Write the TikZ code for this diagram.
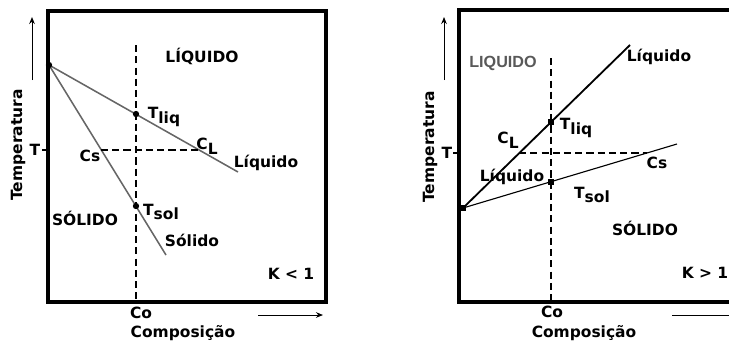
\documentclass[tikz,border=0pt]{standalone}
\usepackage{fontspec}
\setmainfont{DejaVu Sans}
\newfontfamily\arialfont{Liberation Sans}
\usetikzlibrary{arrows.meta, positioning}
\newcommand{\sublbl}[2]{#1\raisebox{-3.5pt}{#2}}

\begin{document}
\begin{tikzpicture}[x=0.25mm, y=-0.25mm, font=\bfseries\fontsize{11}{12}\selectfont,
    frame/.style={line width=2.2pt},
    guide/.style={dash pattern=on 5pt off 3pt, line width=0.8pt},
    dot/.style={circle, fill, inner sep=0pt, minimum size=4.5pt},
    sqdot/.style={rectangle, fill, inner sep=0pt, minimum size=4.5pt},
    axis/.style={-{Stealth[length=5pt, width=4pt]}, line width=0.7pt},
    lbl/.style={inner sep=0pt}]
  \useasboundingbox (0,0) rectangle (729,343);

  % K < 1
  \draw[frame] (48,11) rectangle (326,302);
  \coordinate (a0) at (49,65);
  \coordinate (liqA) at (238,172);
  \coordinate (solA) at (166,255);
  \draw[line width=1.1pt, black!60] (a0) -- (liqA);
  \draw[line width=1.1pt, black!60] (a0) -- (solA);
  \node[dot] (p0) at (a0) {};
  \node[dot] (tliqA) at (136,114) {};
  \node[dot] (tsolA) at (136,206) {};
  \coordinate (coTopA) at (136,45);
  \coordinate (coBotA) at (136,302);
  \coordinate (csA) at (101,150);
  \coordinate (clA) at (199,150);
  \draw[guide] (coTopA) -- (coBotA);
  \draw[guide] (csA) -- (clA);
  \node[lbl] (liqTitleA) at (202,56) {LÍQUIDO};
  \node[lbl] (tliqLblA) at (164,117) {\sublbl{T}{liq}};
  \node[lbl] (clLblA) at (207,146) {\sublbl{C}{L}};
  \node[lbl] (csLblA) at (90,156) {Cs};
  \node[lbl] (liqLblA) at (266,163) {Líquido};
  \node[lbl] (tsolLblA) at (161,212) {\sublbl{T}{sol}};
  \node[lbl] (solTitleA) at (85,218) {SÓLIDO};
  \node[lbl] (solLblA) at (192,240) {Sólido};
  \node[lbl] (kA) at (291,274) {K < 1};
  \node[lbl] (coA) at (141,313) {Co};
  \node[lbl] (compA) at (183,333) {Composição};
  \node[lbl, rotate=90] (tempA) at (18,145) {Temperatura};
  \node[lbl] (tA) at (35,150) {T};
  \coordinate (tickA) at (42,150);
  \coordinate (edgeA) at (48,150);
  \draw[line width=0.8pt] (tickA) -- (edgeA);
  \coordinate (yfromA) at (32,80);
  \coordinate (ytoA) at (32,17);
  \draw[axis] (yfromA) -- (ytoA);
  \coordinate (xfromA) at (258,315);
  \coordinate (xtoA) at (323,315);
  \draw[axis] (xfromA) -- (xtoA);

  % K > 1
  \draw[frame] (459,10) rectangle (745,302);
  \coordinate (b0) at (463,208);
  \coordinate (liqB) at (630,45);
  \coordinate (solB) at (677,144);
  \draw[line width=1.3pt] (b0) -- (liqB);
  \draw[line width=0.8pt] (b0) -- (solB);
  \node[sqdot] (q0) at (b0) {};
  \node[sqdot] (tliqB) at (551,122) {};
  \node[sqdot] (tsolB) at (551,182) {};
  \coordinate (coTopB) at (551,58);
  \coordinate (coBotB) at (551,302);
  \coordinate (clB) at (519,153);
  \coordinate (csB) at (647,153);
  \draw[guide] (coTopB) -- (coBotB);
  \draw[guide] (clB) -- (csB);
  \node[lbl, text=black!65, font=\arialfont\bfseries\fontsize{11.5}{12}\selectfont] (liqTitleB) at (503,63) {LIQUIDO};
  \node[lbl] (liqTopB) at (659,57) {Líquido};
  \node[lbl] (tliqLblB) at (576,128) {\sublbl{T}{liq}};
  \node[lbl] (clLblB) at (508,140) {\sublbl{C}{L}};
  \node[lbl] (csLblB) at (657,163) {Cs};
  \node[lbl] (liqLblB) at (512,177) {Líquido};
  \node[lbl] (tsolLblB) at (592,195) {\sublbl{T}{sol}};
  \node[lbl] (solTitleB) at (645,228) {SÓLIDO};
  \node[lbl] (kB) at (705,273) {K > 1};
  \node[lbl] (coB) at (552,312) {Co};
  \node[lbl] (compB) at (584,333) {Composição};
  \node[lbl, rotate=90] (tempB) at (430,147) {Temperatura};
  \node[lbl] (tB) at (447,153) {T};
  \coordinate (tickB) at (453,153);
  \coordinate (edgeB) at (459,153);
  \draw[line width=0.8pt] (tickB) -- (edgeB);
  \coordinate (yfromB) at (444,80);
  \coordinate (ytoB) at (444,17);
  \draw[axis] (yfromB) -- (ytoB);
  \coordinate (xfromB) at (672,315);
  \coordinate (xtoB) at (745,315);
  \draw[axis] (xfromB) -- (xtoB);
\end{tikzpicture}
\end{document}
